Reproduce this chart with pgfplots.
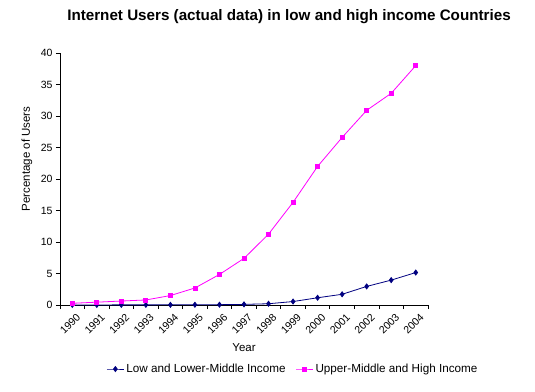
\documentclass[border=0pt]{standalone}
\usepackage{pgfplots}
\pgfplotsset{compat=1.18}
\usepackage{fontspec}
\setmainfont{Liberation Sans}
\definecolor{navyc}{RGB}{0,0,128}
\definecolor{magc}{RGB}{255,0,255}
\begin{document}
\begin{tikzpicture}[x=1pt,y=1pt]
\path[use as bounding box] (0,0) rectangle (535,391);
\node[font=\fontsize{15.2}{18}\selectfont\bfseries] at (289,374) {Internet Users (actual data) in low and high income Countries};
\begin{axis}[
  at={(60pt,86pt)}, anchor=south west,
  scale only axis, width=368pt, height=252pt,
  xmin=-0.5, xmax=14.5, ymin=0, ymax=40,
  axis x line=bottom, axis y line=left,
  axis line style={-, black, line width=0.8pt},
  xtick={-0.5,0.5,...,14.5}, xticklabels={},
  extra x ticks={0,1,2,3,4,5,6,7,8,9,10,11,12,13,14},
  extra x tick labels={1990,1991,1992,1993,1994,1995,1996,1997,1998,1999,2000,2001,2002,2003,2004},
  extra x tick style={major tick length=0pt, tick label style={rotate=45, anchor=north east, xshift=-2pt, yshift=-7pt, inner sep=1pt}},
  ytick={0,5,...,40},
  tick align=outside, major tick length=4pt,
  tick style={black, line width=0.8pt},
  tick label style={font=\fontsize{10.5}{12}\selectfont},
  /pgf/number format/assume math mode=true,
  xlabel={Year}, ylabel={Percentage of Users},
  label style={font=\fontsize{11.5}{13}\selectfont},
  xlabel style={at={(axis description cs:0.5,0)}, yshift=-43pt, anchor=center},
  ylabel style={at={(axis description cs:-0.0897,0.58)}, anchor=center},
  legend style={at={(axis description cs:0.633,-0.254)}, anchor=center, draw=none, font=\fontsize{11.7}{13}\selectfont, legend columns=2, /tikz/every even column/.append style={column sep=8pt}},
  clip=false,
]
\addplot[navyc, line width=0.8pt, mark=diamond*, mark size=2.5pt, mark options={fill=navyc}] coordinates {
(0,0.01) (1,0.01) (2,0.02) (3,0.02) (4,0.03) (5,0.04) (6,0.05) (7,0.1) (8,0.2) (9,0.55) (10,1.15) (11,1.7) (12,2.95) (13,3.95) (14,5.15)};
\addlegendentry{Low and Lower-Middle Income}
\addplot[magc, line width=0.8pt, mark=square*, mark size=2pt, mark options={fill=magc}] coordinates {
(0,0.27) (1,0.45) (2,0.63) (3,0.8) (4,1.5) (5,2.7) (6,4.85) (7,7.4) (8,11.25) (9,16.3) (10,22.0) (11,26.6) (12,30.9) (13,33.6) (14,38.0)};
\addlegendentry{Upper-Middle and High Income}
\end{axis}
\end{tikzpicture}
\end{document}
